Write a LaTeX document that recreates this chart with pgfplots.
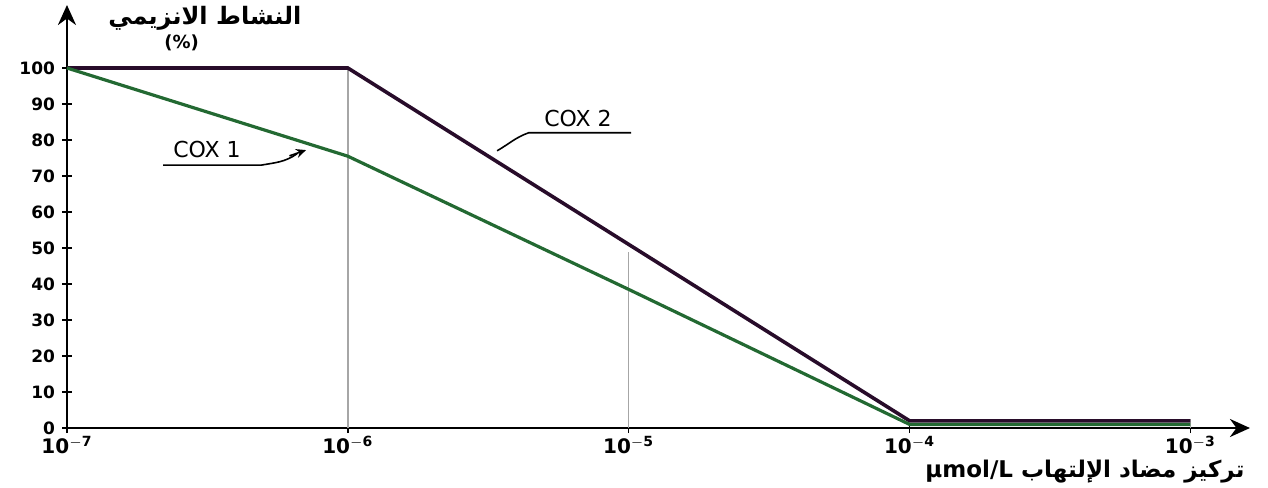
\documentclass[border=0pt]{standalone}
\usepackage{pgfplots}
\pgfplotsset{compat=1.18}
\usepackage{fontspec}
\setmainfont{DejaVu Sans}
\newfontfamily\arabicfont[Script=Arabic]{DejaVu Sans}
\TeXXeTstate=1
\usetikzlibrary{arrows.meta}
\definecolor{coxone}{RGB}{35,105,50}
\definecolor{coxtwo}{RGB}{40,12,42}
\begin{document}
\begin{tikzpicture}
\begin{axis}[
    scale only axis,
    width=591.5pt, height=211.5pt,
    xmode=log,
    xmin=1e-7, xmax=1.63e-3,
    ymin=0, ymax=117.5,
    axis lines=left,
    axis line style={line width=1.4pt, -{Stealth[length=10pt,width=9pt]}},
    xtick={1e-7,1e-6,1e-5,1e-4,1e-3},
    xticklabels={$\mathbf{10^{-7}}$,$\mathbf{10^{-6}}$,$\mathbf{10^{-5}}$,$\mathbf{10^{-4}}$,$\mathbf{10^{-3}}$},
    xminorticks=false,
    ytick={0,10,...,100},
    tick style={black, line width=0.8pt},
    tick align=center,
    major tick length=5pt,
    ticklabel style={font=\fontsize{8.5}{10}\selectfont\bfseries},
    xticklabel style={font=\fontsize{10}{11}\selectfont\bfseries, yshift=2pt},
    /pgf/number format/assume math mode=true,
    clip=false,
]
\coordinate (O) at (rel axis cs:0,0);
% grey guide lines
\addplot[gray!70, line width=0.8pt] coordinates {(1e-6,0) (1e-6,100)};
\addplot[gray!70, line width=0.8pt] coordinates {(1e-5,0) (1e-5,49)};
\addplot[gray!60, line width=0.8pt] coordinates {(1e-3,0) (1e-3,2.5)};
% COX 2
\addplot[coxtwo, line width=1.8pt] coordinates {(1e-7,100) (1e-6,100) (1e-4,2) (1e-3,2)};
% COX 1
\addplot[coxone, line width=1.6pt] coordinates {(1e-7,100) (1e-6,75.5) (1e-5,38.5) (1e-4,1) (1e-3,1)};
% labels
\node[font=\fontsize{11}{12}\selectfont] at (axis cs:3.15e-7,77.5) {COX 1};
\draw[line width=0.8pt] (axis cs:2.2e-7,73) -- (axis cs:4.9e-7,73)
  to[out=10,in=215] (axis cs:6.6e-7,76.2);
\draw[-{Stealth[length=5pt,width=4.5pt]}, line width=0.8pt] (axis cs:6.2e-7,75.6) -- (axis cs:7.1e-7,77.2);
\node[font=\fontsize{11}{12}\selectfont] at (axis cs:6.6e-6,86) {COX 2};
\draw[line width=0.8pt] (axis cs:1.02e-5,82) -- (axis cs:4.4e-6,82)
  to[out=200,in=30] (axis cs:3.4e-6,77);
\node[font=\fontsize{12}{13}\selectfont\bfseries] at (rel axis cs:0.1166,0.969) {\arabicfont\beginR النشاط الانزيمي\endR};
\node[font=\fontsize{9}{10}\selectfont\bfseries] at (rel axis cs:0.097,0.91) {(\%)};
\node[font=\fontsize{11.5}{13}\selectfont\bfseries] at (rel axis cs:0.8605,-0.102) {\arabicfont\beginR تركيز مضاد الإلتهاب \beginL µmol/L\endL{}\endR};
\end{axis}
\pgfresetboundingbox
\path ([shift={(-33.5pt,-29.5pt)}]O) rectangle ([shift={(600.5pt,214pt)}]O);
\end{tikzpicture}
\end{document}
